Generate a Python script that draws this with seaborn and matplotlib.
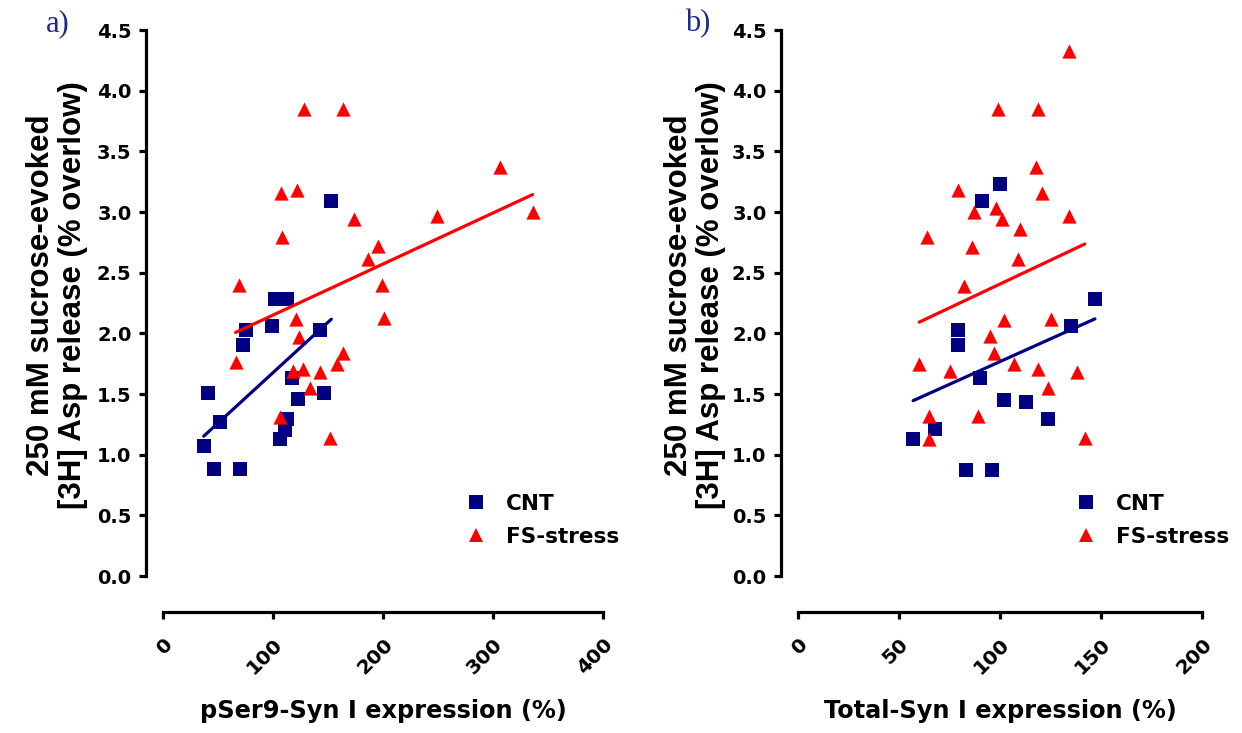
import numpy as np
import pandas as pd
import matplotlib
matplotlib.use("Agg")
import matplotlib.pyplot as plt
import seaborn as sns
from matplotlib.lines import Line2D

# ---------------- data ----------------
groups = ["CNT", "FS-stress"]

# panel a: pSer9-Syn I expression (%)
a_cnt_x = [41, 37, 46, 70, 52, 75, 73, 99, 102, 113, 117, 123, 146, 143, 113, 111, 106, 153]
a_cnt_y = [1.51, 1.07, 0.88, 0.88, 1.27, 2.03, 1.90, 2.06, 2.28, 2.28, 1.63, 1.46,
           1.51, 2.03, 1.29, 1.20, 1.13, 3.09]
a_fs_x = [128, 164, 306, 107, 122, 174, 249, 336, 108, 195, 186, 69, 199,
          121, 201, 124, 66, 164, 158, 118, 127, 143, 134, 106, 152]
a_fs_y = [3.85, 3.85, 3.37, 3.16, 3.18, 2.94, 2.97, 3.00, 2.79, 2.72, 2.61, 2.40, 2.40,
          2.12, 2.13, 1.97, 1.76, 1.84, 1.75, 1.69, 1.71, 1.68, 1.55, 1.31, 1.14]

# panel b: Total-Syn I expression (%)
b_cnt_x = [100, 91, 147, 79, 79, 135, 90, 102, 113, 124, 68, 57, 83, 96]
b_cnt_y = [3.23, 3.09, 2.28, 2.03, 1.90, 2.06, 1.63, 1.45, 1.43, 1.29, 1.21, 1.13, 0.87, 0.87]
b_fs_x = [134, 99, 119, 118, 79, 121, 87, 98, 101, 134, 110, 64, 86, 109, 82,
          102, 125, 95, 97, 60, 75, 107, 119, 138, 124, 65, 89, 65, 142]
b_fs_y = [4.33, 3.85, 3.85, 3.37, 3.18, 3.16, 3.00, 3.03, 2.94, 2.97, 2.86, 2.79, 2.71, 2.61, 2.39,
          2.11, 2.12, 1.98, 1.84, 1.75, 1.69, 1.75, 1.71, 1.68, 1.55, 1.32, 1.32, 1.13, 1.14]

y_ticks = [0.0, 0.5, 1.0, 1.5, 2.0, 2.5, 3.0, 3.5, 4.0, 4.5]
y_tick_labels = ["0.0", "0.5", "1.0", "1.5", "2.0", "2.5", "3.0", "3.5", "4.0", "4.5"]
a_x_ticks = [0, 100, 200, 300, 400]
b_x_ticks = [0, 50, 100, 150, 200]

ylabel_text = "250 mM sucrose-evoked\n[3H] Asp release (% overlow)"
a_xlabel = "pSer9-Syn I expression (%)"
b_xlabel = "Total-Syn I expression (%)"

NAVY = "#000080"
RED = "#ff0000"
palette = {"CNT": NAVY, "FS-stress": RED}
markers = {"CNT": "s", "FS-stress": "^"}

# ---------------- style ----------------
sns.set_theme(style="ticks")
plt.rcParams["font.family"] = ["DejaVu Sans"]
plt.rcParams["font.weight"] = "bold"
plt.rcParams["text.color"] = "black"
plt.rcParams["axes.labelcolor"] = "black"
plt.rcParams["xtick.color"] = "black"
plt.rcParams["ytick.color"] = "black"


def make_df(cx, cy, fx, fy):
    return pd.DataFrame({
        "x": list(cx) + list(fx),
        "y": list(cy) + list(fy),
        "group": ["CNT"] * len(cx) + ["FS-stress"] * len(fx),
    })


fig = plt.figure(figsize=(12.42, 7.33), dpi=100)
W, H = 1242.0, 733.0
axA = fig.add_axes([163 / W, 157 / H, 440 / W, 546 / H])
axB = fig.add_axes([798 / W, 157 / H, 404 / W, 546 / H])


def panel(ax, df, xlim, xticks, xlabel, leg_anchor):
    for g in groups:
        sub = df[df["group"] == g]
        sns.scatterplot(data=sub, x="x", y="y", marker=markers[g], color=palette[g],
                        s=112 if g == "CNT" else 105, linewidth=0, ax=ax, legend=False,
                        zorder=2)
    for g in groups:
        sub = df[df["group"] == g]
        sns.regplot(data=sub, x="x", y="y", scatter=False, ci=None, truncate=True,
                    color=palette[g], line_kws={"lw": 2.3, "zorder": 3}, ax=ax)
    ax.set_xlim(*xlim)
    ax.set_ylim(0, 4.5)
    for s in ["top", "right"]:
        ax.spines[s].set_visible(False)
    ax.spines["left"].set_position(("outward", 12.2))
    ax.spines["bottom"].set_position(("outward", 26))
    for s in ["left", "bottom"]:
        ax.spines[s].set_linewidth(2.3)
        ax.spines[s].set_color("black")
    ax.tick_params(axis="both", direction="out", length=5, width=2.3, colors="black",
                   labelsize=14)
    ax.tick_params(axis="y", pad=5.5)
    ax.tick_params(axis="x", pad=11, labelsize=14.5)
    ax.set_yticks(y_ticks)
    ax.set_yticklabels(y_tick_labels)
    ax.set_xticks(xticks)
    ax.set_xticklabels([str(t) for t in xticks], rotation=45, ha="right", va="top",
                       rotation_mode="anchor")
    ax.set_xlabel(xlabel, fontsize=17.3, fontweight="bold", labelpad=15.5, color="black")
    ax.set_ylabel("")
    ax.set_facecolor("white")
    handles = [Line2D([], [], marker="s", ls="", color=NAVY, markersize=10.5, mew=0),
               Line2D([], [], marker="^", ls="", color=RED, markersize=10.5, mew=0)]
    ax.legend(handles, groups, loc="upper left", bbox_to_anchor=leg_anchor, frameon=False,
              prop={"family": "DejaVu Sans", "weight": "bold", "size": 15.5},
              handlelength=1.0, handletextpad=0.9, labelspacing=0.6, borderpad=0,
              borderaxespad=0)


dfA = make_df(a_cnt_x, a_cnt_y, a_fs_x, a_fs_y)
dfB = make_df(b_cnt_x, b_cnt_y, b_fs_x, b_fs_y)
panel(axA, dfA, (0, 400), a_x_ticks, a_xlabel, ((465 - 163) / 440, (576 - 494) / 546))
panel(axB, dfB, (0, 200), b_x_ticks, b_xlabel, ((1075 - 798) / 404, (576 - 494) / 546))

for xc in [57, 695]:
    fig.text(xc / W, 1 - 295 / H, ylabel_text, rotation=90, ha="center", va="center",
             multialignment="center", family="Liberation Sans", fontweight="bold",
             fontsize=22.5, linespacing=1.05, color="black")

for txt, xc in [("a)", 58), ("b)", 698)]:
    fig.text(xc / W, 1 - 24 / H, txt, ha="center", va="center", family="Liberation Serif",
             fontsize=22, color="#1c2a8c", fontweight="normal")

fig.savefig("out.png", dpi=100, facecolor="white")
